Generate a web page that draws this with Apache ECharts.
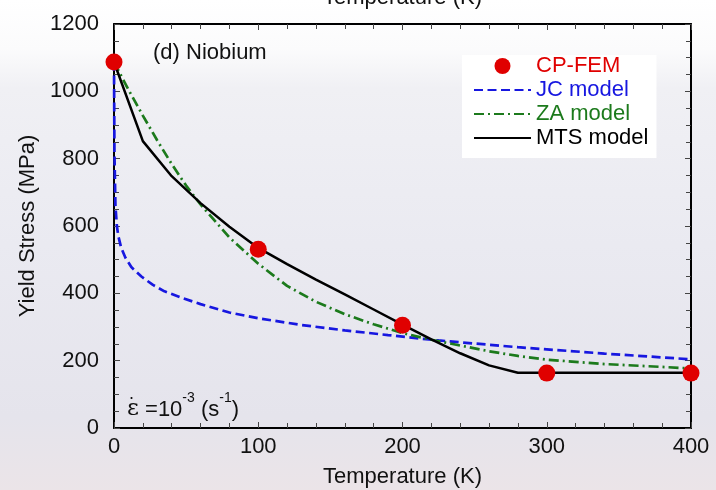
<!DOCTYPE html>
<html>
<head>
<meta charset="utf-8">
<script src="https://cdn.jsdelivr.net/npm/echarts@6/dist/echarts.min.js"></script>
<style>
html,body{margin:0;padding:0;background:#fff;}
#chart{width:716px;height:490px;}
</style>
</head>
<body>
<div id="chart"></div>
<script>
// ---- data ----
const xTicks = [0, 100, 200, 300, 400];
const yTicks = [0, 200, 400, 600, 800, 1000, 1200];

const cpfemT = [0, 100, 200, 300, 400];
const cpfemY = [1087, 531, 305, 163, 163];

const jcT = [0, 0.3, 1, 2, 3, 5, 8, 12, 19, 27, 35, 48, 60, 80, 100, 130, 160, 190, 225, 280, 340, 400];
const jcY = [1087, 820, 660, 600, 570, 535, 505, 478, 450, 425, 406, 385, 368, 343, 326, 306, 290, 276, 260, 240, 221, 204];

const zaT = [0, 10, 20, 30, 40, 50, 60, 80, 100, 120, 140, 160, 180, 200, 220, 240, 260, 280, 300, 340, 400];
const zaY = [1087, 1005, 928, 854, 784, 720, 664, 566, 488, 422, 375, 338, 308, 282, 262, 245, 228, 214, 203, 190, 177];

const mtsT = [0, 20, 40, 60, 80, 100, 120, 140, 160, 180, 200, 220, 240, 260, 280, 400];
const mtsY = [1087, 852, 748, 668, 598, 535, 487, 441, 397, 352, 307, 263, 222, 186, 164, 164];

const zip = (a, b) => a.map((v, i) => [v, b[i]]);

const FONT = 'Liberation Sans, Arial, Helvetica, sans-serif';
const FS = 22;
const RED = '#e00000', BLUE = '#1717e0', GREEN = '#1c7a1c', BLACK = '#000000';

const chart = echarts.init(document.getElementById('chart'), null, {renderer: 'canvas'});

const tickStyle = {color: '#444', width: 1};
const axisCommon = {
  axisLine: {show: true, onZero: false, lineStyle: {color: '#000', width: 2}},
  axisTick: {show: true, inside: true, length: 6, lineStyle: tickStyle},
  splitLine: {show: false},
  minorSplitLine: {show: false}
};
const noSymbolLegend = {color: 'rgba(0,0,0,0)', borderWidth: 0, borderColor: 'rgba(0,0,0,0)'};

chart.setOption({
  backgroundColor: {
    type: 'linear', x: 0, y: 0, x2: 0, y2: 1,
    colorStops: [
      {offset: 0, color: '#ffffff'},
      {offset: 0.1, color: '#fbfbfc'},
      {offset: 0.18, color: '#f0f0f4'},
      {offset: 0.5, color: '#eaeaf1'},
      {offset: 0.85, color: '#e5e4ec'},
      {offset: 1, color: '#ebe4e8'}
    ]
  },
  animation: false,
  textStyle: {fontFamily: FONT},
  grid: {left: 114, right: 25, top: 24, bottom: 62, containLabel: false, outerBoundsMode: 'none'},
  xAxis: [
    Object.assign({}, axisCommon, {
      type: 'value', position: 'bottom', min: 0, max: 400, interval: 100,
      minorTick: {show: true, splitNumber: 5, length: 5, lineStyle: tickStyle},
      axisLabel: {show: true, fontSize: FS, color: '#111', fontFamily: FONT, margin: 8,
        formatter: v => xTicks.includes(v) ? String(v) : ''},
      name: 'Temperature (K)', nameLocation: 'middle', nameGap: 38,
      nameTextStyle: {fontSize: FS, color: '#111', fontFamily: FONT}
    }),
    Object.assign({}, axisCommon, {
      type: 'value', position: 'top', min: 0, max: 400, interval: 100,
      minorTick: {show: true, splitNumber: 5, length: 5, lineStyle: tickStyle},
      axisLabel: {show: false},
      name: 'Temperature (K)', nameLocation: 'middle', nameGap: 15,
      nameTextStyle: {fontSize: FS, color: '#111', fontFamily: FONT}
    })
  ],
  yAxis: [
    Object.assign({}, axisCommon, {
      type: 'value', position: 'left', min: 0, max: 1200, interval: 200,
      minorTick: {show: true, splitNumber: 4, length: 5, lineStyle: tickStyle},
      axisLabel: {show: true, fontSize: FS, color: '#111', fontFamily: FONT, margin: 15,
        formatter: v => yTicks.includes(v) ? String(v) : ''},
      name: 'Yield Stress (MPa)', nameLocation: 'middle', nameGap: 69, nameRotate: 90,
      nameTextStyle: {fontSize: FS, color: '#111', fontFamily: FONT}
    }),
    Object.assign({}, axisCommon, {
      type: 'value', position: 'right', min: 0, max: 1200, interval: 200,
      minorTick: {show: true, splitNumber: 4, length: 5, lineStyle: tickStyle},
      axisLabel: {show: false}
    })
  ],
  legend: {
    orient: 'vertical', left: 462, top: 55,
    padding: [0, 8, 9, 11],
    backgroundColor: '#ffffff',
    itemWidth: 57, itemHeight: 16, itemGap: 2,
    textStyle: {fontSize: FS, fontFamily: FONT, lineHeight: 22},
    data: [
      {name: 'CP-FEM', textStyle: {color: RED}},
      {name: 'JC model', textStyle: {color: BLUE}, itemStyle: noSymbolLegend},
      {name: 'ZA model', textStyle: {color: GREEN}, itemStyle: noSymbolLegend},
      {name: 'MTS model', textStyle: {color: BLACK}, itemStyle: noSymbolLegend}
    ]
  },
  graphic: [
    {type: 'text', left: 153, top: 42, z: 10,
      style: {text: '(d) Niobium', fontSize: FS, fontFamily: FONT, fill: '#111'}},
    {type: 'text', left: 127, top: 391, z: 10,
      style: {
        text: '{e|ε}{n| =10}{s|-3}{n| (s}{s|-1}{n|)}',
        rich: {
          e: {fontSize: 23, fontFamily: 'DejaVu Serif, serif', fill: '#111', lineHeight: 30, verticalAlign: 'bottom'},
          n: {fontSize: FS, fontFamily: FONT, fill: '#111', lineHeight: 30, verticalAlign: 'bottom'},
          s: {fontSize: 14, fontFamily: FONT, fill: '#111', lineHeight: 30, verticalAlign: 'top'}
        }
      }},
    {type: 'text', left: 129, top: 385, z: 10,
      style: {text: '.', fontSize: 18, fontFamily: FONT, fill: '#111'}}
  ],
  series: [
    {name: 'JC model', type: 'line', data: zip(jcT, jcY), symbol: 'none', smooth: false,
      lineStyle: {color: BLUE, width: 2.7, type: [9, 4.5]}, itemStyle: {color: BLUE}, z: 3},
    {name: 'ZA model', type: 'line', data: zip(zaT, zaY), symbol: 'none', smooth: false,
      lineStyle: {color: GREEN, width: 2.7, type: [10, 4, 2, 4]}, itemStyle: {color: GREEN}, z: 3},
    {name: 'MTS model', type: 'line', data: zip(mtsT, mtsY), symbol: 'none', smooth: false,
      lineStyle: {color: BLACK, width: 2.5}, itemStyle: {color: BLACK}, z: 4},
    {name: 'CP-FEM', type: 'scatter', data: zip(cpfemT, cpfemY), symbol: 'circle', symbolSize: 17,
      itemStyle: {color: RED, opacity: 1}, z: 6, clip: false}
  ]
});
</script>
</body>
</html>
